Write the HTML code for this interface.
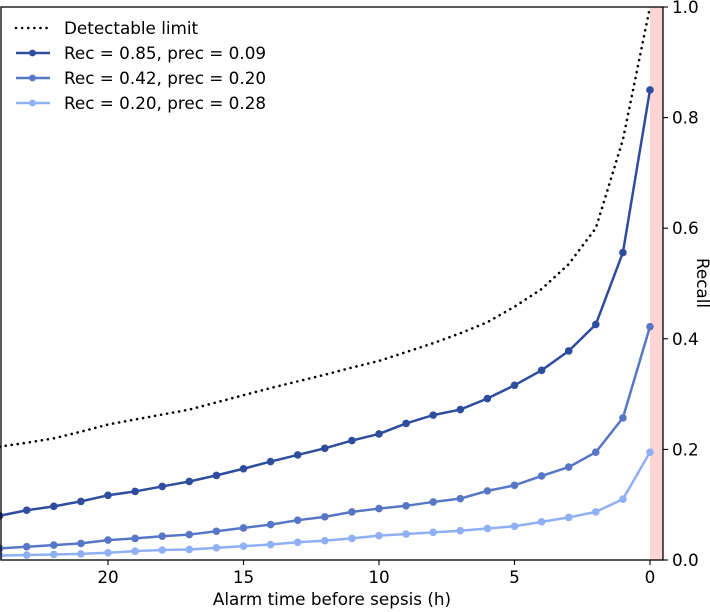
<!DOCTYPE html>
<html><head><meta charset="utf-8"><style>
body{margin:0;background:#fff;}
svg{display:block;font-family:"DejaVu Sans","Liberation Sans",sans-serif;}
</style></head><body>
<svg id="chart" width="710" height="612"></svg>
<script>
const hours=[24,23,22,21,20,19,18,17,16,15,14,13,12,11,10,9,8,7,6,5,4,3,2,1,0];
const detectable=[0.205,0.212,0.22,0.232,0.245,0.254,0.263,0.272,0.285,0.298,0.311,0.323,0.335,0.348,0.36,0.376,0.392,0.41,0.43,0.458,0.49,0.535,0.6,0.76,1.0];
const recHigh=[0.08,0.09,0.097,0.106,0.117,0.124,0.133,0.142,0.153,0.165,0.178,0.19,0.202,0.216,0.228,0.247,0.262,0.272,0.292,0.316,0.343,0.378,0.426,0.556,0.85];
const recMid=[0.021,0.024,0.027,0.030,0.036,0.039,0.043,0.046,0.052,0.058,0.064,0.072,0.078,0.087,0.093,0.098,0.105,0.111,0.125,0.135,0.152,0.168,0.195,0.257,0.422];
const recLow=[0.008,0.009,0.010,0.011,0.013,0.016,0.018,0.019,0.022,0.025,0.028,0.032,0.035,0.039,0.044,0.047,0.050,0.053,0.057,0.061,0.069,0.077,0.087,0.11,0.195];
const xTicks=[20,15,10,5,0];
const yTicks=[0.0,0.2,0.4,0.6,0.8,1.0];
const legendLabels=["Detectable limit","Rec = 0.85, prec = 0.09","Rec = 0.42, prec = 0.20","Rec = 0.20, prec = 0.28"];

const NS="http://www.w3.org/2000/svg";
const svg=document.getElementById('chart');
const L=1,R=663,T=7,B=560;
const xs=v=>650-27.1*v;
const ys=v=>B-(B-T)*v;
function mk(tag,attrs,parent){const e=document.createElementNS(NS,tag);for(const k in attrs)e.setAttribute(k,attrs[k]);(parent||svg).appendChild(e);return e;}
const FS=16.8;

const band=mk('rect',{x:xs(0),y:T,width:R-xs(0),height:B-T,fill:'#fdd5d5'});



function series(vals,color,name,dotted){
  const g=mk('g',{});
  
  
  const pts=vals.map((v,i)=>xs(hours[i])+','+ys(v)).join(' ');
  const pl=mk('polyline',{points:pts,fill:'none',stroke:color,'stroke-width':dotted?2.6:2.5,'stroke-dasharray':dotted?'0.1,6':'none','stroke-linecap':dotted?'round':'butt','stroke-linejoin':'round'},g);
  
  
  if(!dotted){vals.forEach((v,i)=>{const c=mk('circle',{cx:xs(hours[i]),cy:ys(v),r:3.8,fill:color},g);
    
    });}
}
series(detectable,'#000','detectable-limit-series',true);
series(recLow,'#8fb0f5','rec-020-series',false);
series(recMid,'#5777c6','rec-042-series',false);
series(recHigh,'#2f4d9e','rec-085-series',false);

const frame=mk('rect',{x:L,y:T,width:R-L,height:B-T,fill:'none',stroke:'#000','stroke-width':1.3});



xTicks.forEach(t=>{
  mk('line',{x1:xs(t),x2:xs(t),y1:B,y2:B+5,stroke:'#000','stroke-width':1.1});
  const tx=mk('text',{x:xs(t),y:B+23,'text-anchor':'middle','font-size':FS});
  tx.textContent=t;
  
  
});
yTicks.forEach(t=>{
  mk('line',{x1:R,x2:R+5,y1:ys(t),y2:ys(t),stroke:'#000','stroke-width':1.1});
  const tx=mk('text',{x:R+9,y:ys(t)+6,'font-size':FS});
  tx.textContent=t.toFixed(1);
  
  
});
const xl=mk('text',{x:332,y:605,'text-anchor':'middle','font-size':FS});
xl.textContent='Alarm time before sepsis (h)';


const yl=mk('text',{x:0,y:0,'text-anchor':'middle','font-size':FS,transform:'translate(697,283) rotate(90)'});
yl.textContent='Recall';



const lg=mk('g',{});


const lcolors=['#000','#2f4d9e','#5777c6','#8fb0f5'];
legendLabels.forEach((lab,i)=>{
  const y=28+i*25;
  const e=mk('g',{},lg);
  
  
  mk('line',{x1:16,x2:50,y1:y,y2:y,stroke:lcolors[i],'stroke-width':2.5,'stroke-dasharray':i==0?'0.1,6':'none','stroke-linecap':i==0?'round':'butt'},e);
  if(i>0)mk('circle',{cx:32.5,cy:y,r:3.4,fill:lcolors[i]},e);
  const t=mk('text',{x:64,y:y+6,'font-size':FS},e);
  t.textContent=lab;
});
</script>
</body></html>
